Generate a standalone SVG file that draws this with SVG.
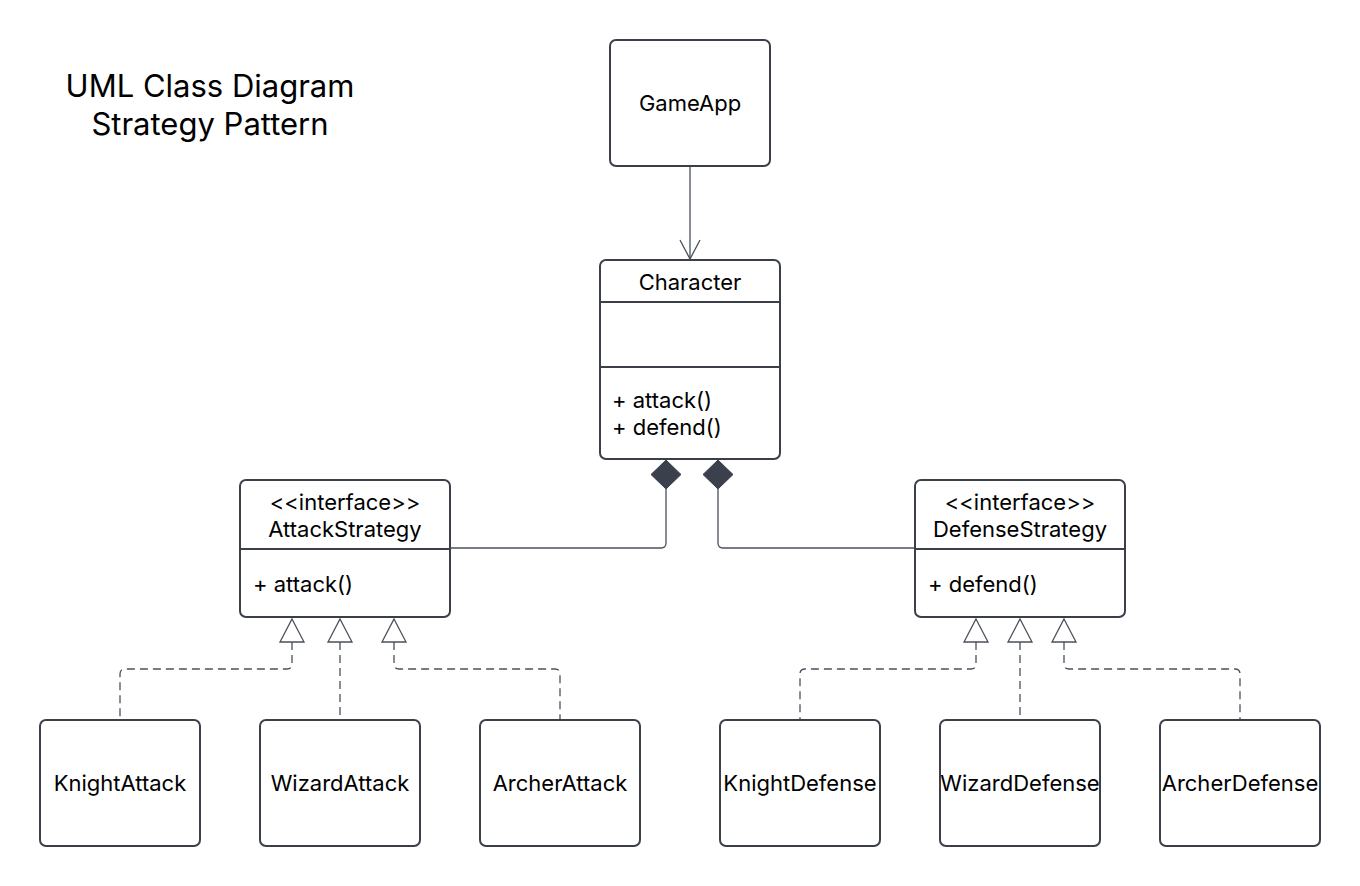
<svg xmlns="http://www.w3.org/2000/svg" width="1360" height="886" viewBox="0 0 1360 886">
<style>
.box{fill:#ffffff;stroke:#3a3f4a;stroke-width:2}
.div{stroke:#3a3f4a;stroke-width:2}
.t{font-family:Inter,"Liberation Sans",sans-serif;font-size:22px;fill:#000000;dominant-baseline:central}
.c{text-anchor:middle}
.title{font-family:Inter,"Liberation Sans",sans-serif;font-size:31px;fill:#000000;text-anchor:middle;dominant-baseline:central}
.ln{fill:none;stroke:#4a505c;stroke-width:1.3}
.dash{fill:none;stroke:#4a505c;stroke-width:1.3;stroke-dasharray:8 5}
.tri{fill:#ffffff;stroke:#4a505c;stroke-width:1.3}
.dia{fill:#3a404c;stroke:#3a404c;stroke-width:1}
</style>
<rect width="1360" height="886" fill="#ffffff"/>
<g id="title">
<text class="title" x="210" y="85">UML Class Diagram</text>
<text class="title" x="210" y="123">Strategy Pattern</text>
</g>
<g id="connectors">
<path class="ln" d="M690,166 L690,259"/>
<path class="ln" d="M680,240 L690,259 L700,240"/>
<path class="ln" d="M666,489 L666,543 Q666,548 661,548 L450,548"/>
<path class="ln" d="M718,489 L718,543 Q718,548 723,548 L915,548"/>
<polygon class="dia" points="666,460 681,474.5 666,489 651,474.5"/>
<polygon class="dia" points="718,460 733,474.5 718,489 703,474.5"/>
<path class="dash" d="M292,642 L292,664 Q292,669 287,669 L125,669 Q120,669 120,674 L120,720"/>
<path class="dash" d="M340,642 L340,720"/>
<path class="dash" d="M394,642 L394,664 Q394,669 399,669 L555,669 Q560,669 560,674 L560,720"/>
<polygon class="tri" points="292,619 304,642 280,642"/>
<polygon class="tri" points="340,619 352,642 328,642"/>
<polygon class="tri" points="394,619 406,642 382,642"/>
<path class="dash" d="M976,642 L976,664 Q976,669 971,669 L805,669 Q800,669 800,674 L800,720"/>
<path class="dash" d="M1020,642 L1020,720"/>
<path class="dash" d="M1064,642 L1064,664 Q1064,669 1069,669 L1235,669 Q1240,669 1240,674 L1240,720"/>
<polygon class="tri" points="976,619 988,642 964,642"/>
<polygon class="tri" points="1020,619 1032,642 1008,642"/>
<polygon class="tri" points="1064,619 1076,642 1052,642"/>
</g>
<g id="GameApp">
<rect class="box" x="610" y="40" width="160" height="126" rx="6"/>
<text class="t c" x="690" y="103">GameApp</text>
</g>
<g id="Character">
<rect class="box" x="600" y="260" width="180" height="199" rx="6"/>
<line class="div" x1="600" y1="302" x2="780" y2="302"/>
<line class="div" x1="600" y1="367" x2="780" y2="367"/>
<text class="t c" x="690" y="282">Character</text>
<text class="t" x="612" y="400">+ attack()</text>
<text class="t" x="612" y="427">+ defend()</text>
</g>
<g id="AttackStrategy">
<rect class="box" x="240" y="480" width="210" height="137" rx="6"/>
<line class="div" x1="240" y1="549" x2="450" y2="549"/>
<text class="t c" x="345" y="502">&lt;&lt;interface&gt;&gt;</text>
<text class="t c" x="345" y="529">AttackStrategy</text>
<text class="t" x="253" y="584">+ attack()</text>
</g>
<g id="DefenseStrategy">
<rect class="box" x="915" y="480" width="210" height="137" rx="6"/>
<line class="div" x1="915" y1="549" x2="1125" y2="549"/>
<text class="t c" x="1020" y="502">&lt;&lt;interface&gt;&gt;</text>
<text class="t c" x="1020" y="529">DefenseStrategy</text>
<text class="t" x="928" y="584">+ defend()</text>
</g>
<g id="KnightAttack">
<rect class="box" x="40" y="720" width="160" height="126" rx="6"/>
<text class="t c" x="120" y="783">KnightAttack</text>
</g>
<g id="WizardAttack">
<rect class="box" x="260" y="720" width="160" height="126" rx="6"/>
<text class="t c" x="340" y="783">WizardAttack</text>
</g>
<g id="ArcherAttack">
<rect class="box" x="480" y="720" width="160" height="126" rx="6"/>
<text class="t c" x="560" y="783">ArcherAttack</text>
</g>
<g id="KnightDefense">
<rect class="box" x="720" y="720" width="160" height="126" rx="6"/>
<text class="t c" x="800" y="783">KnightDefense</text>
</g>
<g id="WizardDefense">
<rect class="box" x="940" y="720" width="160" height="126" rx="6"/>
<text class="t c" x="1020" y="783">WizardDefense</text>
</g>
<g id="ArcherDefense">
<rect class="box" x="1160" y="720" width="160" height="126" rx="6"/>
<text class="t c" x="1240" y="783">ArcherDefense</text>
</g>
</svg>
